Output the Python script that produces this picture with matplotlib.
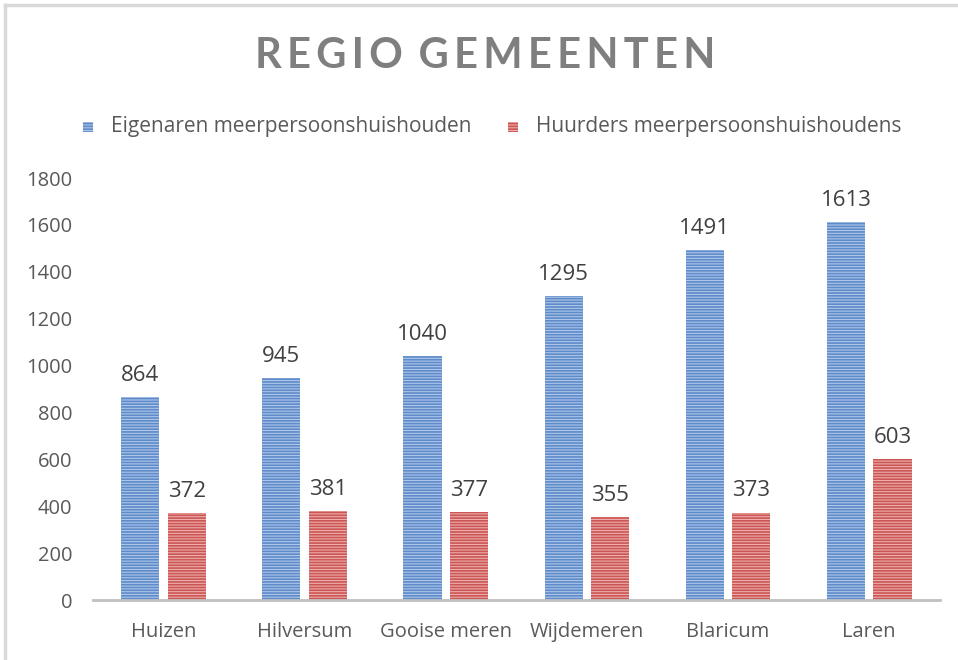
import matplotlib.pyplot as plt
import numpy as np
from matplotlib.lines import Line2D
from matplotlib.patches import Rectangle

# gegevens per gemeente
gemeenten = ['Huizen', 'Hilversum', 'Gooise meren', 'Wijdemeren', 'Blaricum', 'Laren']
eigenaren = [864, 945, 1040, 1295, 1491, 1613]
huurders = [372, 381, 377, 355, 373, 603]
yticks = [0, 200, 400, 600, 800, 1000, 1200, 1400, 1600, 1800]

plt.rcParams['font.family'] = ['Open Sans', 'DejaVu Sans']
plt.rcParams['hatch.linewidth'] = 1.2

fig = plt.figure(figsize=(9.58, 6.60), dpi=100)
ax = fig.add_axes([0.097, 0.0909, 0.884, 0.6394])

x = np.arange(len(gemeenten))
breedte = 0.27
verschuiving = 0.165

blauw = ax.bar(x - verschuiving, eigenaren, breedte, color='#adc6ea',
               edgecolor='#5f8bc9', hatch='------', linewidth=0)
rood = ax.bar(x + verschuiving, huurders, breedte, color='#ecadac',
              edgecolor='#cb5654', hatch='------', linewidth=0)

for balken in (blauw, rood):
    for b in balken:
        ax.annotate(str(int(b.get_height())),
                    (b.get_x() + b.get_width() / 2, b.get_height()),
                    xytext=(0, 8), textcoords='offset points',
                    ha='center', va='bottom', fontsize=16, color='#404040')

ax.set_xlim(-0.5, len(gemeenten) - 0.5)
ax.set_ylim(0, 1800)
ax.set_yticks(yticks)
ax.set_xticks(x)
ax.set_xticklabels(gemeenten)
ax.tick_params(axis='both', length=0, labelsize=14.5, labelcolor='#595959')
ax.tick_params(axis='y', pad=15)
ax.tick_params(axis='x', pad=16)

for kant in ['top', 'right', 'left']:
    ax.spines[kant].set_visible(False)
ax.spines['bottom'].set_color('#bfbfbf')
ax.spines['bottom'].set_linewidth(2)

fig.text(0.506, 0.915, 'R E G I O   G E M E E N T E N'.replace(' ', '\u2009'),
         ha='center', va='center', fontsize=30, fontweight='bold', color='#7f7f7f',
         family=['Lato', 'DejaVu Sans'])

# legenda
for xpos, kleur, licht, tekst in [(0.087, '#5f8bc9', '#adc6ea', 'Eigenaren meerpersoonshuishouden'),
                                  (0.530, '#cb5654', '#ecadac', 'Huurders meerpersoonshuishoudens')]:
    fig.patches.append(Rectangle((xpos, 0.800), 0.0105, 0.0155, transform=fig.transFigure,
                                 facecolor=licht, edgecolor=kleur, hatch='------', linewidth=0))
    fig.text(xpos + 0.029, 0.808, tekst, ha='left', va='center', fontsize=15, color='#595959')

# rand van de afbeelding
fig.add_artist(Line2D([0.005, 1.0], [0.992, 0.992], color='#d9d9d9', linewidth=2.5))
fig.add_artist(Line2D([0.005, 0.005], [0.0, 0.992], color='#d9d9d9', linewidth=2.5))

fig.savefig('out.png', dpi=100)
